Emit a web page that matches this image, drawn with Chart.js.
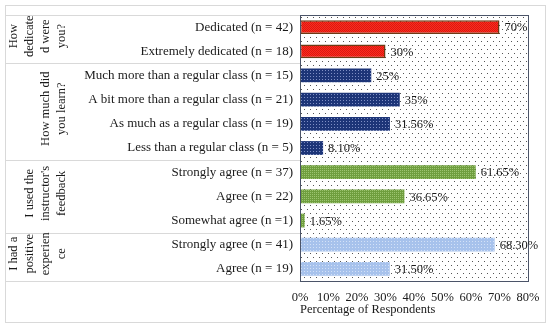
<!DOCTYPE html>
<html>
<head>
<meta charset="utf-8">
<script src="https://cdn.jsdelivr.net/npm/chart.js@4.4.0/dist/chart.umd.min.js"></script>
<style>
  html, body { margin: 0; padding: 0; background: #fff; }
  #wrap { width: 550px; height: 327px; }
</style>
</head>
<body>
<div id="wrap"><canvas id="surveyChart" width="550" height="327"></canvas></div>
<script>
// Survey data
const categories = [
    "Dedicated (n = 42)",
    "Extremely dedicated (n = 18)",
    "Much more than a regular class (n = 15)",
    "A bit more than a regular class (n = 21)",
    "As much as a regular class (n = 19)",
    "Less than a regular class (n = 5)",
    "Strongly agree (n = 37)",
    "Agree (n = 22)",
    "Somewhat agree (n =1)",
    "Strongly agree (n = 41)",
    "Agree (n = 19)"
];
const percentValues = [70, 30, 25, 35, 31.56, 8.10, 61.65, 36.65, 1.65, 68.30, 31.50];
const valueLabels = ["70%", "30%", "25%", "35%", "31.56%", "8.10%", "61.65%", "36.65%", "1.65%", "68.30%", "31.50%"];
const groupSizes = [2, 4, 3, 2];
const groupTitles = [
    ["How", "dedicate", "d were", "you?"],
    ["How much did", "you learn?"],
    ["I used the", "instructor's", "feedback"],
    ["I had a", "positive", "experien", "ce"]
];
const tickStep = 10;
const axisMin = 0;
const axisMax = 80;

const fontFamily = "'Liberation Serif', 'DejaVu Serif', serif";
const textColor = "#1a1a1a";
const lineColor = "#d9d9d9";

// small canvas patterns for the bar fills
function makePattern(w, h, base, dotColor, dots) {
    const c = document.createElement('canvas');
    c.width = w;
    c.height = h;
    const cx = c.getContext('2d');
    cx.fillStyle = base;
    cx.fillRect(0, 0, w, h);
    cx.fillStyle = dotColor;
    dots.forEach(function (d) {
        cx.fillRect(d[0], d[1], 1, 1);
    });
    return document.getElementById('surveyChart').getContext('2d').createPattern(c, 'repeat');
}

const redFill = makePattern(2, 2, "#ff2a1c", "#d81a12", [[0, 0], [1, 1]]);
const navyFill = makePattern(3, 3, "#1d3578", "#7f8fc4", [[1, 1]]);
const greenFill = makePattern(2, 2, "#6f9e3e", "#9cc470", [[0, 0]]);
const blueFill = makePattern(3, 3, "#a7c2ec", "#d3e1f7", [[1, 1]]);
const plotDots = makePattern(6, 8, "#ffffff", "#555555", [[1, 1], [4, 5]]);

const groupFills = [redFill, navyFill, greenFill, blueFill];
let barColors = [];
let barBorders = [];
let borderWidths = [];
groupSizes.forEach(function (n, g) {
    for (let i = 0; i < n; i++) {
        barColors.push(groupFills[g]);
        barBorders.push(g === 0 ? "#6e3a14" : "rgba(0,0,0,0)");
        borderWidths.push(g === 0 ? 1.5 : 0);
    }
});

// Draw the dotted plot area, the table lines and the group headers
const tablePlugin = {
    id: 'tablePlugin',
    beforeDatasetsDraw: function (chart) {
        const ctx = chart.ctx;
        const a = chart.chartArea;
        ctx.save();
        ctx.fillStyle = plotDots;
        ctx.fillRect(a.left, a.top, a.right - a.left, a.bottom - a.top);
        ctx.restore();
    },
    afterDatasetsDraw: function (chart) {
        const ctx = chart.ctx;
        const a = chart.chartArea;
        const meta = chart.getDatasetMeta(0);
        ctx.save();
        ctx.strokeStyle = "#4b5468";
        ctx.lineWidth = 1;
        ctx.strokeRect(a.left + 0.5, a.top + 0.5, a.right - a.left, a.bottom - a.top);

        ctx.font = "12.5px " + fontFamily;
        ctx.fillStyle = textColor;
        ctx.textAlign = 'left';
        ctx.textBaseline = 'middle';
        meta.data.forEach(function (bar, i) {
            ctx.fillText(valueLabels[i], bar.x + 5, bar.y + 1);
        });
        ctx.restore();
    },
    afterDraw: function (chart) {
        const ctx = chart.ctx;
        const a = chart.chartArea;
        const y = chart.scales.y;
        const rowH = (a.bottom - a.top) / categories.length;
        ctx.save();

        // outer frame
        ctx.strokeStyle = lineColor;
        ctx.lineWidth = 1;
        ctx.strokeRect(5.5, 5.5, 540, 317);

        // table lines at group boundaries
        let idx = 0;
        let bounds = [a.top];
        groupSizes.forEach(function (n) {
            idx += n;
            bounds.push(y.getPixelForValue(idx - 1) + rowH / 2);
        });
        ctx.beginPath();
        bounds.forEach(function (b) {
            ctx.moveTo(5, Math.round(b) + 0.5);
            ctx.lineTo(a.left, Math.round(b) + 0.5);
        });
        ctx.stroke();

        // rotated group headers
        ctx.fillStyle = textColor;
        ctx.font = "12.5px " + fontFamily;
        ctx.textAlign = 'center';
        ctx.textBaseline = 'middle';
        groupTitles.forEach(function (lines, g) {
            const mid = (bounds[g] + bounds[g + 1]) / 2 - 3;
            lines.forEach(function (line, k) {
                const x = 62 - 16 * (lines.length - 1 - k);
                ctx.save();
                ctx.translate(x, mid);
                ctx.rotate(-Math.PI / 2);
                ctx.fillText(line, 0, 0);
                ctx.restore();
            });
        });
        ctx.restore();
    }
};

const surveyChart = new Chart(document.getElementById('surveyChart'), {
    type: 'bar',
    data: {
        labels: categories,
        datasets: [{
            data: percentValues,
            backgroundColor: barColors,
            borderColor: barBorders,
            borderWidth: borderWidths,
            borderSkipped: false,
            barPercentage: 0.57,
            categoryPercentage: 1
        }]
    },
    options: {
        indexAxis: 'y',
        responsive: false,
        animation: false,
        devicePixelRatio: 1,
        layout: { padding: { left: 5, right: 22, top: 15, bottom: 5 } },
        plugins: {
            legend: { display: false },
            tooltip: { enabled: false }
        },
        scales: {
            y: {
                grid: { display: false, drawTicks: false },
                border: { display: false },
                ticks: {
                    font: { family: fontFamily, size: 13 },
                    color: textColor,
                    padding: 7,
                    autoSkip: false
                },
                afterFit: function (scale) {
                    scale.width = 295;
                }
            },
            x: {
                min: axisMin,
                max: axisMax,
                grid: { display: false, drawTicks: false },
                border: { display: false },
                ticks: {
                    stepSize: tickStep,
                    font: { family: fontFamily, size: 12.5 },
                    color: textColor,
                    padding: 9,
                    maxRotation: 0,
                    autoSkip: false,
                    callback: function (v) { return v + '%'; }
                },
                title: {
                    display: true,
                    text: 'Percentage of Respondents',
                    align: 'start',
                    font: { family: fontFamily, size: 12.5 },
                    color: textColor,
                    padding: { top: 0, bottom: 5 }
                },
                afterFit: function (scale) {
                    scale.height = 41;
                }
            }
        }
    },
    plugins: [tablePlugin]
});
</script>
</body>
</html>
